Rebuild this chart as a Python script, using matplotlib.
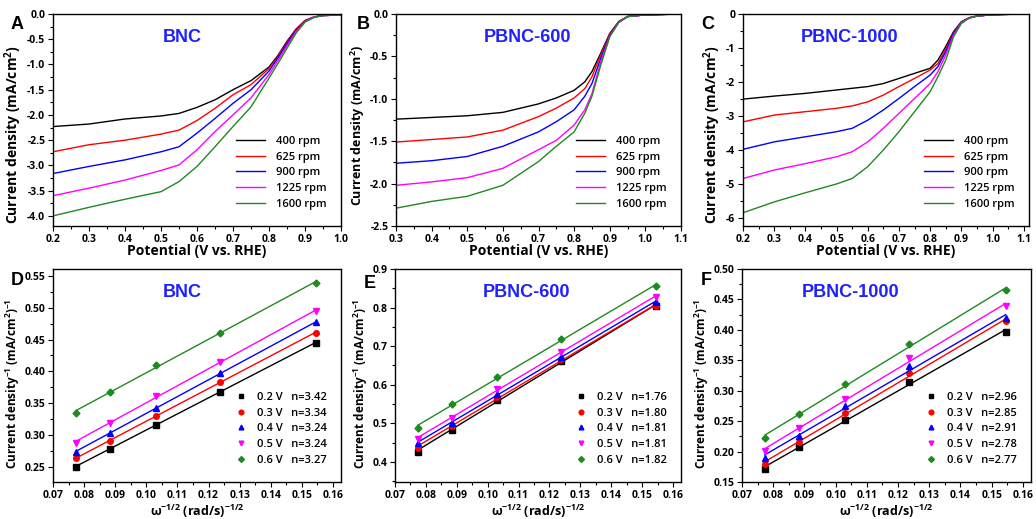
import numpy as np
import matplotlib
matplotlib.use("Agg")
import matplotlib.pyplot as plt
from matplotlib.ticker import AutoMinorLocator, MultipleLocator

plt.rcParams["font.family"] = ["Open Sans", "DejaVu Sans"]
plt.rcParams["font.weight"] = "bold"
plt.rcParams["mathtext.default"] = "regular"

colors = ["black", "#ff0000", "#0000ff", "#ff00ff", "#1f8a1f"]
rpm_labels = ["400 rpm", "625 rpm", "900 rpm", "1225 rpm", "1600 rpm"]

# ---- LSV data (potential V vs RHE, current density mA/cm2) ----
pot_a = [0.2, 0.3, 0.4, 0.5, 0.55, 0.6, 0.65, 0.7, 0.75, 0.8, 0.825, 0.85, 0.875, 0.9, 0.925, 0.95, 1.0]
bnc_lsv = [
    [-2.23, -2.18, -2.08, -2.02, -1.97, -1.85, -1.70, -1.50, -1.32, -1.05, -0.82, -0.54, -0.30, -0.13, -0.06, -0.03, -0.02],
    [-2.73, -2.59, -2.50, -2.38, -2.30, -2.11, -1.87, -1.60, -1.40, -1.08, -0.84, -0.56, -0.31, -0.13, -0.06, -0.03, -0.02],
    [-3.16, -3.02, -2.89, -2.73, -2.63, -2.36, -2.07, -1.77, -1.50, -1.13, -0.87, -0.59, -0.33, -0.14, -0.06, -0.03, -0.02],
    [-3.60, -3.45, -3.29, -3.10, -2.99, -2.69, -2.33, -2.00, -1.66, -1.20, -0.92, -0.63, -0.35, -0.15, -0.06, -0.03, -0.02],
    [-4.00, -3.83, -3.67, -3.52, -3.32, -3.02, -2.63, -2.23, -1.84, -1.27, -0.98, -0.68, -0.38, -0.16, -0.07, -0.03, -0.02],
]

pot_b = [0.3, 0.4, 0.5, 0.6, 0.7, 0.75, 0.8, 0.83, 0.85, 0.875, 0.9, 0.925, 0.95, 1.0, 1.1]
pbnc600_lsv = [
    [-1.24, -1.22, -1.20, -1.16, -1.06, -0.99, -0.90, -0.80, -0.68, -0.46, -0.23, -0.09, -0.03, -0.01, 0.0],
    [-1.51, -1.48, -1.45, -1.37, -1.21, -1.11, -0.99, -0.88, -0.74, -0.48, -0.24, -0.09, -0.03, -0.01, 0.0],
    [-1.76, -1.73, -1.68, -1.56, -1.39, -1.27, -1.13, -0.97, -0.82, -0.52, -0.25, -0.10, -0.03, -0.01, 0.0],
    [-2.02, -1.98, -1.93, -1.82, -1.60, -1.49, -1.31, -1.13, -0.94, -0.56, -0.26, -0.10, -0.03, -0.01, 0.0],
    [-2.29, -2.21, -2.15, -2.02, -1.74, -1.56, -1.39, -1.17, -0.97, -0.60, -0.27, -0.10, -0.03, -0.01, 0.0],
]

pot_c = [0.2, 0.3, 0.4, 0.5, 0.55, 0.6, 0.65, 0.7, 0.75, 0.8, 0.825, 0.85, 0.875, 0.9, 0.925, 0.95, 1.0, 1.1]
pbnc1000_lsv = [
    [-2.51, -2.42, -2.34, -2.24, -2.19, -2.14, -2.05, -1.90, -1.75, -1.60, -1.36, -0.96, -0.52, -0.23, -0.11, -0.06, -0.02, 0.0],
    [-3.18, -2.98, -2.88, -2.78, -2.71, -2.59, -2.39, -2.14, -1.90, -1.65, -1.46, -1.04, -0.55, -0.24, -0.11, -0.06, -0.02, 0.0],
    [-3.99, -3.77, -3.62, -3.47, -3.37, -3.13, -2.83, -2.49, -2.14, -1.80, -1.55, -1.11, -0.57, -0.25, -0.12, -0.06, -0.02, 0.0],
    [-4.85, -4.60, -4.41, -4.21, -4.06, -3.77, -3.37, -2.93, -2.49, -2.05, -1.70, -1.21, -0.62, -0.26, -0.12, -0.06, -0.02, 0.0],
    [-5.86, -5.54, -5.27, -5.01, -4.85, -4.50, -4.01, -3.47, -2.88, -2.29, -1.85, -1.36, -0.67, -0.28, -0.12, -0.06, -0.02, 0.0],
]

# ---- K-L data ----
omega_inv_sqrt = [0.0773, 0.0883, 0.1030, 0.1236, 0.1545]
kl_potentials = ["0.2 V", "0.3 V", "0.4 V", "0.5 V", "0.6 V"]
bnc_kl = [
    [0.250, 0.278, 0.316, 0.368, 0.445],
    [0.263, 0.291, 0.330, 0.383, 0.461],
    [0.273, 0.303, 0.343, 0.397, 0.477],
    [0.288, 0.319, 0.361, 0.415, 0.495],
    [0.334, 0.368, 0.410, 0.461, 0.539],
]
bnc_n = ["3.42", "3.34", "3.24", "3.24", "3.27"]
pbnc600_kl = [
    [0.426, 0.484, 0.560, 0.661, 0.804],
    [0.436, 0.493, 0.568, 0.666, 0.804],
    [0.448, 0.502, 0.577, 0.672, 0.815],
    [0.459, 0.515, 0.590, 0.685, 0.828],
    [0.489, 0.549, 0.619, 0.718, 0.856],
]
pbnc600_n = ["1.76", "1.80", "1.81", "1.81", "1.82"]
pbnc1000_kl = [
    [0.172, 0.207, 0.252, 0.315, 0.397],
    [0.180, 0.216, 0.264, 0.329, 0.414],
    [0.190, 0.226, 0.275, 0.341, 0.419],
    [0.201, 0.238, 0.287, 0.354, 0.439],
    [0.223, 0.261, 0.311, 0.377, 0.465],
]
pbnc1000_n = ["2.96", "2.85", "2.91", "2.78", "2.77"]
markers = ["s", "o", "^", "v", "D"]

W, H = 1036, 519
fig = plt.figure(figsize=(W / 100, H / 100), dpi=100)


def px_axes(left, top, right, bottom):
    return fig.add_axes([left / W, 1 - bottom / H, (right - left) / W, (bottom - top) / H])


def style(ax):
    ax.tick_params(which="both", direction="out", top=False, right=False, labelsize=7.5, width=0.8, pad=2)
    ax.tick_params(which="major", length=3.5)
    ax.tick_params(which="minor", length=2)
    ax.xaxis.set_minor_locator(AutoMinorLocator(2))
    ax.yaxis.set_minor_locator(AutoMinorLocator(2))
    for s in ax.spines.values():
        s.set_linewidth(1.0)


title_kw = dict(color="#1f1fff", fontsize=13, fontweight="bold", family="Liberation Sans",
                ha="center", va="center")

# ---- top row: LSV ----
lsv_sets = [
    (pot_a, bnc_lsv, (53, 14, 341, 226), (0.2, 1.0), (-4.2, 0.0), 0.5, "%.1f", "BNC", 0.448, 10, 0.43),
    (pot_b, pbnc600_lsv, (396, 14, 681, 226), (0.3, 1.1), (-2.5, 0.0), 0.5, "%.1f", "PBNC-600", 0.46, 9, 0.476),
    (pot_c, pbnc1000_lsv, (743, 14, 1029, 226), (0.2, 1.117), (-6.25, 0.0), 1.0, "%d", "PBNC-1000", 0.374, 10, 0.43),
]
for pot, curves, box, xl, yl, ystep, yfmt, name, tx, yfs, yly in lsv_sets:
    ax = px_axes(*box)
    for c, lab, cur in zip(colors, rpm_labels, curves):
        ax.plot(pot, cur, color=c, lw=1.0, label=lab)
    ax.set_xlim(*xl)
    ax.set_ylim(*yl)
    ax.xaxis.set_major_locator(MultipleLocator(0.1))
    ax.yaxis.set_major_locator(MultipleLocator(ystep))
    ax.yaxis.set_major_formatter(plt.FormatStrFormatter(yfmt))
    style(ax)
    ax.set_xlabel("Potential (V vs. RHE)", fontsize=10, fontweight="bold")
    ax.xaxis.set_label_coords(0.5, -0.085)
    ax.set_ylabel("Current density (mA/cm$^2$)", fontsize=yfs, fontweight="bold", labelpad=2)
    ax.yaxis.label.set_y(yly)
    ax.text(tx, 0.887, name, transform=ax.transAxes, **title_kw)
    ax.legend(loc="lower right", bbox_to_anchor=(0.985, 0.03), frameon=False,
              prop={"size": 8, "weight": "semibold"},
              handlelength=2.6, handletextpad=1.0, labelspacing=0.42)

# ---- bottom row: K-L ----
kl_sets = [
    (bnc_kl, bnc_n, (53, 269, 341, 482), (0.226, 0.561), 0.05, "%.2f", "BNC", 0.448),
    (pbnc600_kl, pbnc600_n, (395, 269, 681, 482), (0.348, 0.9), 0.1, "%.1f", "PBNC-600", 0.46),
    (pbnc1000_kl, pbnc1000_n, (742, 269, 1031, 482), (0.15, 0.50), 0.05, "%.2f", "PBNC-1000", 0.374),
]
x = np.array(omega_inv_sqrt)
for data, nvals, box, yl, ystep, yfmt, name, tx in kl_sets:
    ax = px_axes(*box)
    for c, m, v, n, y in zip(colors, markers, kl_potentials, nvals, data):
        k, b = np.polyfit(x, y, 1)
        ax.plot([x[0], x[-1]], [k * x[0] + b, k * x[-1] + b], color=c, lw=1.0)
        ax.plot(x, y, ls="none", marker=m, color=c, ms=4 if m != "D" else 3.5,
                label=f"{v}   n={n}")
    ax.set_xlim(0.07, 0.1626)
    ax.set_ylim(*yl)
    ax.xaxis.set_major_locator(MultipleLocator(0.01))
    ax.yaxis.set_major_locator(MultipleLocator(ystep))
    ax.xaxis.set_major_formatter(plt.FormatStrFormatter("%.2f"))
    ax.yaxis.set_major_formatter(plt.FormatStrFormatter(yfmt))
    style(ax)
    ax.set_xlabel("ω$^{-1/2}$ (rad/s)$^{-1/2}$", fontsize=9, fontweight="bold")
    ax.xaxis.set_label_coords(0.5, -0.097)
    ax.set_ylabel("Current density$^{-1}$ (mA/cm$^2$)$^{-1}$", fontsize=8.5, fontweight="bold", labelpad=2)
    ax.yaxis.label.set_y(0.46)
    ax.text(tx, 0.89, name, transform=ax.transAxes, **title_kw)
    ax.legend(loc="lower right", bbox_to_anchor=(0.985, 0.03), frameon=False,
              prop={"size": 8, "weight": "semibold"},
              handlelength=1.0, handletextpad=0.9, labelspacing=0.42, markerscale=0.85)

# panel letters
letter_kw = dict(fontsize=13, fontweight="bold", family="Liberation Sans", va="top", ha="left")
for lt, px, py in [("A", 11, 16), ("B", 357, 16), ("C", 701, 16),
                   ("D", 11, 272), ("E", 364, 275), ("F", 701, 272)]:
    fig.text(px / W, 1 - py / H, lt, **letter_kw)

fig.savefig("out.png", dpi=100)
